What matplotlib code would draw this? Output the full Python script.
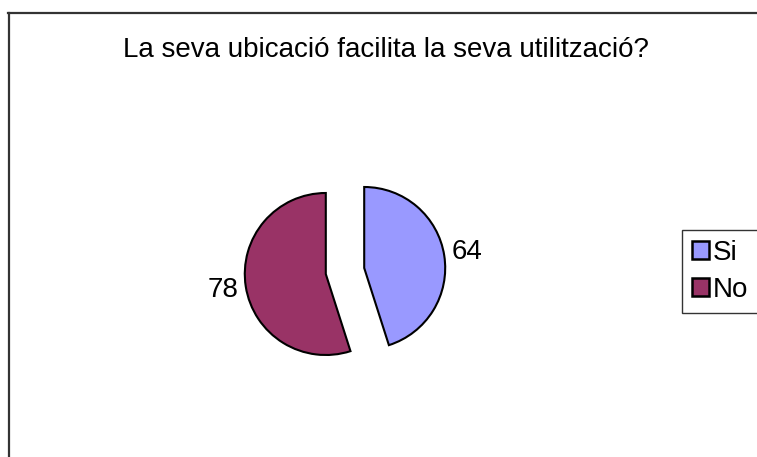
import matplotlib
matplotlib.use('Agg')
import matplotlib.pyplot as plt
from matplotlib.patches import Patch
from matplotlib.lines import Line2D

plt.rcParams['font.family'] = ['Liberation Sans', 'DejaVu Sans']

# Data
categories = ['Si', 'No']
values = [64, 78]
slice_colors = ['#9999FF', '#993366']
title = 'La seva ubicació facilita la seva utilització?'

W, H = 757, 457
fig = plt.figure(figsize=(W / 100, H / 100), dpi=100)

# outer frame (left and top edges visible)
fig.add_artist(Line2D([8.5 / W, 8.5 / W], [0, 1 - 13 / H], color='#333333', lw=1.6,
                      transform=fig.transFigure))
fig.add_artist(Line2D([8 / W, 1], [1 - 13 / H, 1 - 13 / H], color='#333333', lw=1.6,
                      transform=fig.transFigure))

fig.text(386 / W, 1 - 50 / H, title, ha='center', va='center', fontsize=20)

# pie axes: centre at (345, 271) px, radius ~81 px
cx, cy, r_px = 345, 271, 81
half = 200
ax = fig.add_axes([(cx - half) / W, 1 - (cy + half) / H, 2 * half / W, 2 * half / H])

wedges, texts = ax.pie(values, colors=slice_colors, startangle=90, counterclock=False,
                       explode=[0.24, 0.24], labels=[str(v) for v in values],
                       labeldistance=1.28,
                       wedgeprops=dict(edgecolor='black', linewidth=1.5),
                       textprops=dict(fontsize=20), radius=1.0)
for t in texts:
    t.set_ha('center')
    t.set_va('center')

lim = half / r_px
ax.set_xlim(-lim, lim)
ax.set_ylim(-lim, lim)
ax.set_aspect('equal')
ax.axis('off')

handles = [Patch(facecolor=c, edgecolor='black', linewidth=1.8) for c in slice_colors]
leg = fig.legend(handles, categories, loc='upper left',
                 bbox_to_anchor=(682 / W, 1 - 230 / H), fontsize=20,
                 frameon=True, fancybox=False, handlelength=0.62, handleheight=0.62,
                 handletextpad=0.15, borderpad=0.35, labelspacing=0.4, borderaxespad=0)
leg.get_frame().set_edgecolor('black')
leg.get_frame().set_linewidth(1.0)

fig.savefig('out.png', dpi=100)
